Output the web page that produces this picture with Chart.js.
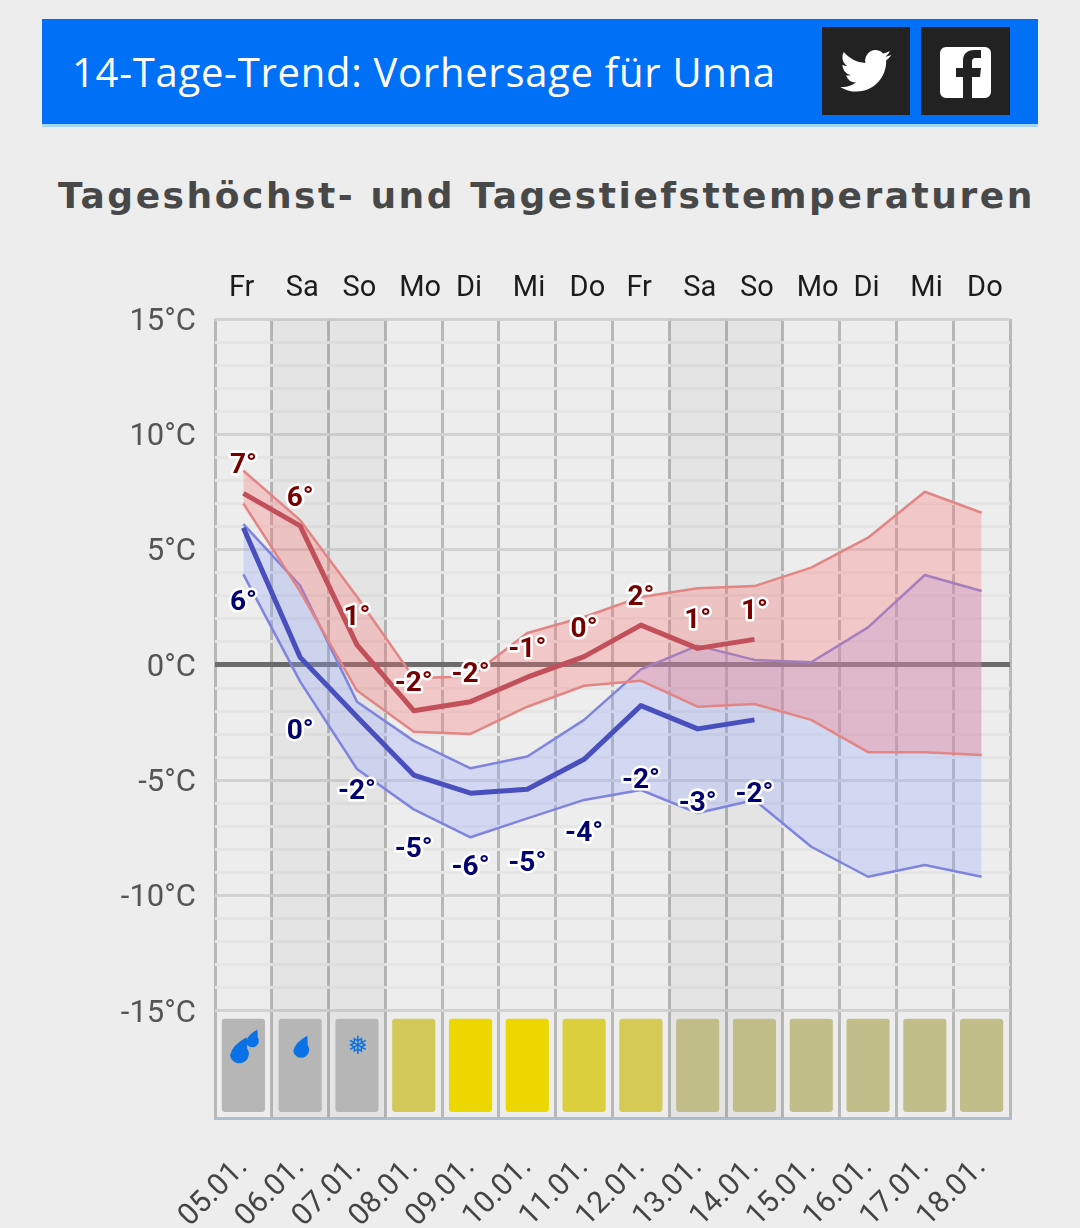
<!DOCTYPE html>
<html lang="de">
<head>
<meta charset="utf-8">
<title>14-Tage-Trend</title>
<script src="https://cdn.jsdelivr.net/npm/chart.js@4/dist/chart.umd.min.js"></script>
<style>
html, body { margin: 0; padding: 0; background: #ededed; width: 1080px; height: 1228px; overflow: hidden; }
#head { position: absolute; left: 42px; top: 19px; width: 996px; height: 105px; background: #0070f6; border-bottom: 3px solid #a6d6ee; }
#head h1 { position: absolute; left: 30px; top: 25px; margin: 0; color: #fff; font: 400 40px "Open Sans", sans-serif; letter-spacing: 0.72px; white-space: nowrap; }
.social { position: absolute; top: 8px; width: 88px; height: 88px; background: #222; }
#tw { left: 780px; }
#fb { left: 879px; width: 89px; }
#title { position: absolute; left: 58px; top: 175px; margin: 0; color: #484848; font: 700 36px "DejaVu Sans", sans-serif; letter-spacing: 2.55px; white-space: nowrap; }
#chart { position: absolute; left: 0; top: 240px; }
</style>
</head>
<body>
<div id="head">
  <h1>14-Tage-Trend: Vorhersage für Unna</h1>
  <div class="social" id="tw"><svg width="88" height="88" viewBox="0 0 24 24"><path transform="translate(5 5) scale(.58)" fill="#fff" d="M23.95 4.57a10 10 0 0 1-2.82.77 4.96 4.96 0 0 0 2.16-2.72c-.95.55-2 .95-3.12 1.17a4.92 4.92 0 0 0-8.38 4.48C7.69 8.09 4.07 6.13 1.64 3.16a4.82 4.82 0 0 0-.66 2.47c0 1.71.87 3.21 2.19 4.1a4.9 4.9 0 0 1-2.23-.61v.06a4.92 4.92 0 0 0 3.95 4.83 5 5 0 0 1-2.21.08 4.94 4.94 0 0 0 4.6 3.42A9.87 9.87 0 0 1 0 19.54a13.94 13.94 0 0 0 7.55 2.21c9.06 0 14-7.5 14-13.98 0-.21 0-.42-.02-.63a9.94 9.94 0 0 0 2.46-2.55z"/></svg></div>
  <div class="social" id="fb"><svg width="89" height="88" viewBox="0 0 89 88"><path fill="#fff" fill-rule="evenodd" d="M25 20h39a6 6 0 0 1 6 6v39a6 6 0 0 1-6 6H51V50h8l1-9h-9v-6c0-3 1-4 4-4h5v-8h-7c-7 0-11 4-11 11v7h-7v9h7v21H25a6 6 0 0 1-6-6V26a6 6 0 0 1 6-6z"/></svg></div>
</div>
<h2 id="title">Tageshöchst- und Tagestiefsttemperaturen</h2>
<canvas id="chart" width="1080" height="988"></canvas>
<script>
const dates = ["05.01.","06.01.","07.01.","08.01.","09.01.","10.01.","11.01.","12.01.","13.01.","14.01.","15.01.","16.01.","17.01.","18.01."];
const weekdays = ["Fr","Sa","So","Mo","Di","Mi","Do","Fr","Sa","So","Mo","Di","Mi","Do"];

const redUpper = [8.42,6.28,2.96,-0.56,-0.5,1.39,2.08,2.95,3.33,3.42,4.22,5.52,7.51,6.6];
const redLower = [7.0,3.18,-1.11,-2.89,-2.99,-1.81,-0.9,-0.68,-1.81,-1.69,-2.38,-3.78,-3.78,-3.9];
const redMean = [7.44,6.03,0.87,-1.98,-1.59,-0.53,0.36,1.73,0.72,1.11];
const blueUpper = [6.11,3.44,-1.59,-3.29,-4.48,-3.97,-2.38,-0.19,0.84,0.22,0.12,1.63,3.9,3.21];
const blueLower = [3.93,-0.72,-4.51,-6.26,-7.47,-6.65,-5.85,-5.42,-6.42,-5.85,-7.88,-9.18,-8.67,-9.18];
const blueMean = [5.95,0.33,-2.24,-4.77,-5.56,-5.39,-4.09,-1.76,-2.77,-2.38];
const redLabels = ["7°","6°","1°","-2°","-2°","-1°","0°","2°","1°","1°"];
const blueLabels = ["6°","0°","-2°","-5°","-6°","-5°","-4°","-2°","-3°","-2°"];

// weekend columns and the sun strip under the chart
const weekendDays = [1,2,8,9];
const sunColors = ["#b6b6b6","#b6b6b6","#b6b6b6","#d2c95a","#ecd800","#ecd800","#dccf3e","#d5ca56","#c2be8a","#c2be8a","#c2be8a","#c2be8a","#c2be8a","#c2be8a"];
const yMin = -19.64, yMax = 15;
const sunTop = -15.34, sunBottom = -19.38;

function drop(ctx, x, y, r) {
    ctx.beginPath();
    ctx.arc(x, y, r, -0.2 * Math.PI, 0.95 * Math.PI);
    ctx.quadraticCurveTo(x - r * 0.8, y - r * 0.9, x + r * 0.75, y - r * 1.75);
    ctx.quadraticCurveTo(x + r * 0.85, y - r * 1.2, x + r * 0.81, y - r * 0.59);
    ctx.fill();
}

const tempLabels = {
    id: "tempLabels",
    afterDatasetsDraw(chart) {
        const ctx = chart.ctx, xs = chart.scales.x, ys = chart.scales.y;
        ctx.save();
        ctx.font = "700 28px Roboto";
        ctx.textAlign = "center";
        ctx.textBaseline = "middle";
        ctx.lineJoin = "round";
        ctx.lineWidth = 5;
        ctx.strokeStyle = "#fff";
        const put = (labels, means, offset, color) => {
            labels.forEach((t, i) => {
                const x = xs.getPixelForValue(i), y = ys.getPixelForValue(means[i]) + offset;
                ctx.strokeText(t, x, y);
                ctx.fillStyle = color;
                ctx.fillText(t, x, y);
            });
        };
        put(redLabels, redMean, -27, "#750000");
        put(blueLabels, blueMean, 75, "#00006e");

        // rain and snow icons sit on the first sun bars
        ctx.fillStyle = "#0a72e6";
        const yIcon = ys.getPixelForValue(sunTop) + 30;
        drop(ctx, xs.getPixelForValue(0) - 4, yIcon + 5, 9.5);
        drop(ctx, xs.getPixelForValue(0) + 9, yIcon - 8, 6.5);
        drop(ctx, xs.getPixelForValue(1) + 1, yIcon + 1, 8);
        ctx.font = "25px 'DejaVu Sans'";
        ctx.fillText("❅", xs.getPixelForValue(2) + 1, yIcon - 1);
        ctx.restore();
    }
};

function line(label, data, color, width, extra) {
    return Object.assign({ type: "line", label, data, borderColor: color, borderWidth: width, pointRadius: 0, tension: 0, fill: false, borderJoinStyle: "round" }, extra);
}

new Chart(document.getElementById("chart"), {
    data: {
        labels: dates,
        datasets: [
            { type: "bar", label: "Wochenende", data: dates.map((d, i) => weekendDays.includes(i) ? [yMin, yMax] : null), backgroundColor: "rgba(0,0,0,0.035)", barPercentage: 1, categoryPercentage: 1, grouped: false, order: 9 },
            { type: "bar", label: "Sonne", data: dates.map(() => [sunBottom, sunTop]), backgroundColor: sunColors, barPercentage: 0.76, categoryPercentage: 1, borderRadius: 3, borderSkipped: false, grouped: false, order: 8 },
            line("Tiefst max", blueUpper, "#7f84de", 2.5, { fill: "+1", backgroundColor: "rgba(150,164,255,0.3)", order: 7 }),
            line("Tiefst min", blueLower, "#7f84de", 2.5, { order: 6 }),
            line("Höchst max", redUpper, "#e28585", 2.5, { fill: "+1", backgroundColor: "rgba(255,114,114,0.3)", order: 5 }),
            line("Höchst min", redLower, "#e28585", 2.5, { order: 4 }),
            line("Tiefst", blueMean, "#4a4fbe", 5, { order: 3 }),
            line("Höchst", redMean, "#c2505a", 5, { order: 2 })
        ]
    },
    options: {
        responsive: false,
        animation: false,
        devicePixelRatio: 1,
        layout: { padding: { left: 0, right: 70, top: 0, bottom: 0 } },
        plugins: { legend: { display: false }, tooltip: { enabled: false } },
        scales: {
            x: {
                type: "category",
                offset: true,
                position: "bottom",
                afterFit(s) { s.height = 110; },
                grid: { offset: true, color: "#b8b8b8", lineWidth: 3, drawTicks: false },
                border: { display: true, color: "#b0bccf", width: 3 },
                ticks: { autoSkip: false, minRotation: 45, maxRotation: 45, padding: 32, color: "#444", font: { family: "Roboto", size: 30 } }
            },
            xTop: {
                type: "category",
                labels: weekdays,
                offset: true,
                position: "top",
                afterFit(s) { s.height = 79; },
                grid: { display: false },
                border: { display: false },
                ticks: { autoSkip: false, maxRotation: 0, align: "start", labelOffset: -14.5, padding: 5, color: "#1c1c1c", font: { family: "Roboto", size: 29 } }
            },
            y: {
                min: yMin,
                max: yMax,
                afterFit(s) { s.width = 215; },
                afterBuildTicks(s) {
                    const t = [];
                    for (let v = -15; v <= 15; v++) t.push({ value: v });
                    s.ticks = t;
                },
                border: { display: false },
                grid: {
                    drawTicks: false,
                    color: c => c.tick.value === 0 ? "#6c6c6c" : (c.tick.value % 5 === 0 ? "#d2d2d2" : "#e5e5e5"),
                    lineWidth: c => c.tick.value === 0 ? 5 : 3
                },
                ticks: {
                    autoSkip: false,
                    padding: 19,
                    labelOffset: 3,
                    color: "#555",
                    font: { family: "Roboto", size: 31 },
                    callback: v => v % 5 === 0 ? v + "°C" : ""
                }
            }
        }
    },
    plugins: [tempLabels]
});
</script>
</body>
</html>
